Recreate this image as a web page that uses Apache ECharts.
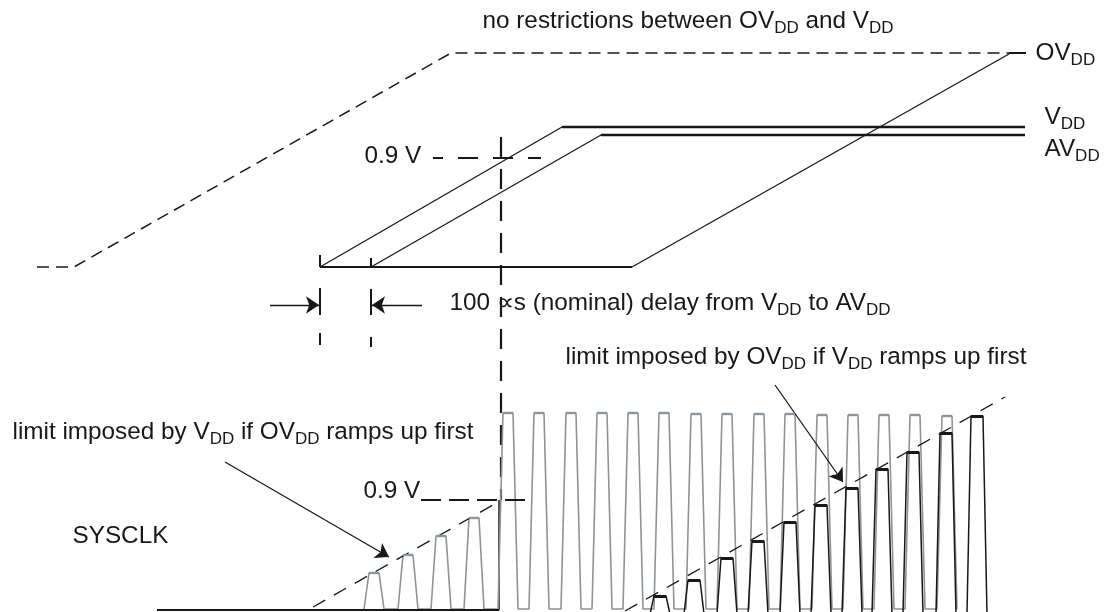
<!DOCTYPE html>
<html>
<head>
<meta charset="utf-8">
<script src="https://cdn.jsdelivr.net/npm/echarts@6/dist/echarts.min.js"></script>
<style>
  html, body { margin: 0; padding: 0; background: #fff; }
  #chart { width: 1113px; height: 612px; }
</style>
</head>
<body>
<div id="chart"></div>
<script>
// supply traces (x = time, y = level, top of page = 0)
var ovddFirst = [[37, 267], [74, 267], [451, 53], [1009, 53]];
var ovddTail = [[1009, 53], [1026, 53]];
var groundRun = [[320, 267], [632, 267]];
var ovddLate = [[632, 267], [1009, 54]];
var vddTrace = [[320, 267], [562, 127], [1025, 127]];
var avddTrace = [[371, 267], [601, 135], [1025, 135]];
var upper09 = [[433, 158], [541, 158]];
var crossLine = [[501, 137], [501, 500]];
var crossFoot = [[499, 500], [499, 610]];

// delay marker ticks: x, y from, y to
var delayTicks = [[320, 255, 267], [320, 288, 315], [320, 333, 345],
                  [371, 258, 267], [371, 289, 315], [371, 337, 347]];
// arrows: from -> to
var arrows = [[[270, 305], [319, 305]], [[422, 305], [372, 305]],
              [[775, 385], [843, 482]], [[225, 462], [389, 557]]];

// SYSCLK
var sysclkBase = [[157, 610], [499, 610]];
var vddLimit = [[313, 607], [500, 501]];
var ovddLimit = [[625, 611], [1005, 397]];
var lower09 = [[421, 500], [530, 500]];
var grayX = [374, 408, 441, 474, 508, 539, 571, 602, 633, 664, 696, 727, 759, 790, 822, 853, 884, 915, 947];
var grayTop = [573, 555, 536, 518, 413, 413, 413, 413, 413, 413, 414, 414, 414, 414, 415, 415, 415, 415, 416];
var blackX = [660, 694, 727, 758, 790, 821, 852, 882, 913, 946, 977];
var blackTop = [596, 580, 558, 541, 522, 505, 488, 469, 452, 433, 416];

// texts: x, y (middle of capitals), rich text
var texts = [
  [483, 22, '{m|no restrictions between OV}{s|DD}{m| and V}{s|DD}'],
  [1036, 54, '{m|OV}{s|DD}'],
  [1045, 118, '{m|V}{s|DD}'],
  [1045, 150, '{m|AV}{s|DD}'],
  [365, 157, '{m|0.9 V}'],
  [450, 304, '{m|100 \u221Ds (nominal) delay from V}{s|DD}{m| to AV}{s|DD}'],
  [566, 358, '{m|limit imposed by OV}{s|DD}{m| if V}{s|DD}{m| ramps up first}'],
  [13, 433, '{m|limit imposed by V}{s|DD}{m| if OV}{s|DD}{m| ramps up first}'],
  [364, 492, '{m|0.9 V}'],
  [73, 537, '{m|SYSCLK}']
];

var INK = '#1a1718';
var GRAY = '#8d949a';
var FONT = '"Liberation Sans", Arial, Helvetica, sans-serif';

function pulses(xs, tops, base, halfBottom, halfTop) {
  var pts = [];
  for (var i = 0; i < xs.length; i++) {
    pts.push([xs[i] - halfBottom, base], [xs[i] - halfTop, tops[i]],
             [xs[i] + halfTop, tops[i]], [xs[i] + halfBottom, base]);
  }
  return pts;
}
function topBars(xs, tops, halfTop) {
  return xs.map(function (x, i) {
    return { coords: [[x - halfTop, tops[i]], [x + halfTop, tops[i]]] };
  });
}
function path(data, width, dash, color, z) {
  return {
    type: 'line', data: data, symbol: 'none', silent: true,
    lineStyle: { width: width, type: dash || 'solid', color: color || INK },
    z: z || 2
  };
}
function segs(data, width, color, extra) {
  var s = {
    type: 'lines', coordinateSystem: 'cartesian2d', data: data, silent: true,
    lineStyle: { width: width, color: color || INK, opacity: 1, curveness: 0 },
    z: 3
  };
  for (var k in extra) s[k] = extra[k];
  return s;
}

var chart = echarts.init(document.getElementById('chart'));
var option = {
  animation: false,
  grid: { left: 0, right: 0, top: 0, bottom: 0 },
  xAxis: { type: 'value', min: 0, max: 1113, show: false },
  yAxis: { type: 'value', min: 0, max: 612, inverse: true, show: false },
  series: [
    path(ovddFirst, 1.5, [12, 7]),
    path(ovddTail, 2),
    path(groundRun, 2.2),
    path(ovddLate, 1.3),
    path(vddTrace, 1.3),
    path(vddTrace.slice(1), 2.6),
    path(avddTrace, 1.3),
    path(avddTrace.slice(1), 2.6),
    (function () { var s = path(upper09, 2.2, [20, 15]); s.lineStyle.dashOffset = 10; return s; })(),
    path(crossLine, 2.2, [20, 12]),
    path(crossFoot, 1.5),
    segs(delayTicks.map(function (t) { return { coords: [[t[0], t[1]], [t[0], t[2]]] }; }), 2),
    segs(arrows.map(function (a) { return { coords: a }; }), 1.3, INK,
         { symbol: ['none', 'arrow'], symbolSize: [9, 13] }),
    // SYSCLK
    path(pulses(grayX, grayTop, 609, 10, 5), 1.6, null, GRAY, 2),
    segs(topBars(grayX, grayTop, 5), 2.4, GRAY),
    path(sysclkBase, 2.2, null, INK, 4),
    path(pulses(blackX, blackTop, 614, 10, 6), 1.5, null, INK, 4),
    segs(topBars(blackX, blackTop, 6), 3, INK, { z: 5 }),
    path(vddLimit, 1.3, [14, 10]),
    path(ovddLimit, 1.3, [14, 10]),
    path(lower09, 2.2, [20, 8]),
    {
      type: 'scatter', silent: true, symbolSize: 1, z: 10,
      itemStyle: { color: 'transparent' },
      data: texts.map(function (t) { return { value: [t[0], t[1]], text: t[2] }; }),
      label: {
        show: true, position: [0, 0], align: 'left', verticalAlign: 'middle',
        color: INK, opacity: 1, textBorderWidth: 0,
        formatter: function (p) { return p.data.text; },
        rich: {
          m: { fontSize: 24.3, lineHeight: 30, fontFamily: FONT, color: INK },
          s: { fontSize: 17, lineHeight: 17, verticalAlign: 'bottom', fontFamily: FONT, color: INK }
        }
      }
    }
  ]
};
chart.setOption(option);
</script>
</body>
</html>
